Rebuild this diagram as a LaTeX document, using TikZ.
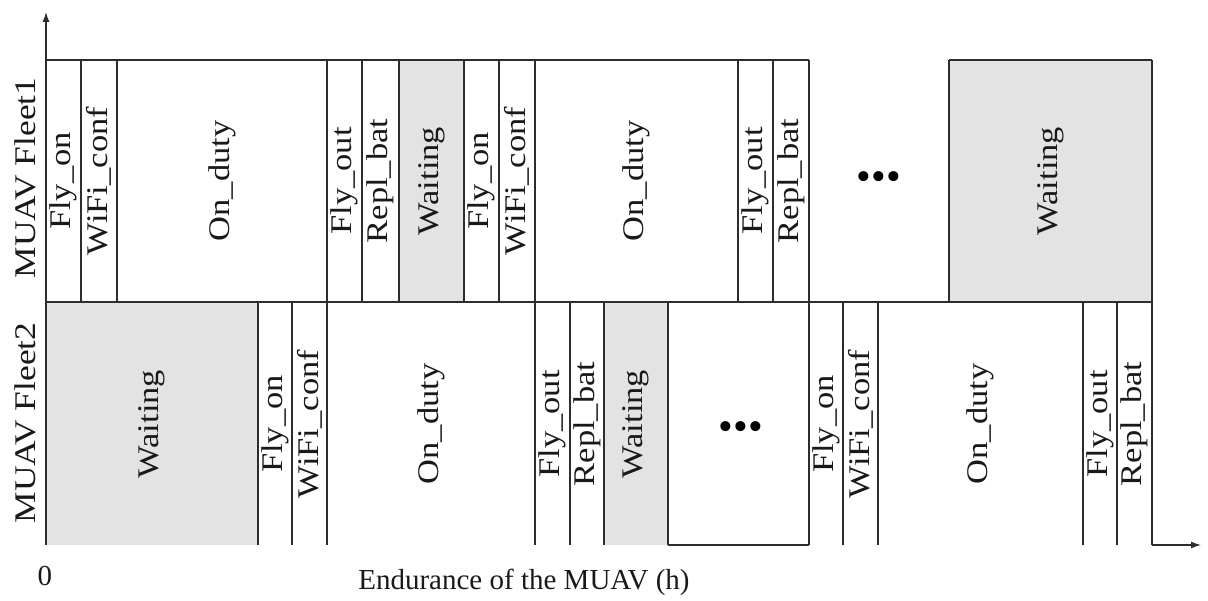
\documentclass[tikz,border=0pt]{standalone}
\usepackage{fontspec}
\setmainfont{Liberation Serif}
\usetikzlibrary{arrows.meta}
\definecolor{waitgray}{RGB}{227,227,227}
\definecolor{edge}{RGB}{45,45,45}
\begin{document}
\begin{tikzpicture}[x=1pt,y=-1pt,
  edgeline/.style={draw=edge,line width=1.3pt},
  waitbox/.style={fill=waitgray,draw=none},
  phase/.style={rotate=90,font=\fontsize{30}{32}\selectfont,inner sep=0pt,text=black!90},
  rowlabel/.style={rotate=90,font=\fontsize{30}{32}\selectfont,inner sep=0pt,text=black!90},
  axislabel/.style={font=\fontsize{29}{31}\selectfont,inner sep=0pt,text=black!90},
  dots/.style={font=\fontsize{42}{44}\selectfont,inner sep=0pt},
  axisarrow/.style={draw=edge,line width=1.3pt,-{Latex[length=10pt,width=7pt]}}
]
\useasboundingbox (0,0) rectangle (1208,601);

% waiting periods (shaded)
\fill[waitbox] (399,60) rectangle (464,302);
\fill[waitbox] (949,60) rectangle (1152,302);
\fill[waitbox] (46,302) rectangle (258,545);
\fill[waitbox] (604,302) rectangle (668,545);

% fleet 1 row: top edges and phase boundaries
\draw[edgeline] (46,60) -- (809,60);
\draw[edgeline] (949,60) -- (1152,60);
\foreach \x in {81,117,327,362,399,464,499,535,738,773,809,949,1152}
  \draw[edgeline] (\x,60) -- (\x,302);

% separator between the two fleets
\draw[edgeline] (46,302) -- (1152,302);

% fleet 2 row: phase boundaries
\foreach \x in {258,292,327,535,570,604,668,809,843,878,1083,1117,1152}
  \draw[edgeline] (\x,302) -- (\x,545);
\draw[edgeline] (668,545) -- (809,545);

% axes
\coordinate (origin) at (46,545);
\coordinate (ytip) at (46,12);
\coordinate (xstart) at (1152,545);
\coordinate (xtip) at (1201,545);
\draw[axisarrow] (origin) -- (ytip);
\draw[axisarrow] (xstart) -- (xtip);

% phase labels, fleet 1
\foreach \x/\t [count=\i] in {63.5/Fly\_on, 99/WiFi\_conf, 222/On\_duty,
    344.5/Fly\_out, 380.5/Repl\_bat, 431.5/Waiting, 481.5/Fly\_on,
    517/WiFi\_conf, 636.5/On\_duty, 755.5/Fly\_out, 791/Repl\_bat,
    1051/Waiting}
  \node[phase] (fa\i) at (\x,181) {\scalebox{1.15}[1]{\t}};

% phase labels, fleet 2
\foreach \x/\t [count=\i] in {152/Waiting, 275/Fly\_on, 309.5/WiFi\_conf,
    431/On\_duty, 552.5/Fly\_out, 587/Repl\_bat, 636/Waiting,
    826/Fly\_on, 860.5/WiFi\_conf, 980.5/On\_duty, 1100/Fly\_out,
    1134.5/Repl\_bat}
  \node[phase] (fb\i) at (\x,424) {\scalebox{1.15}[1]{\t}};

% continuation marks
\node[dots] (more1) at (879,181) {\textbullet\textbullet\textbullet};
\node[dots] (more2) at (741,431) {\textbullet\textbullet\textbullet};

% row and axis labels
\node[rowlabel] (row1) at (25,178) {\scalebox{1.18}[1]{MUAV Fleet1}};
\node[rowlabel] (row2) at (25,423) {\scalebox{1.18}[1]{MUAV Fleet2}};
\node[axislabel] (zero) at (45,576) {0};
\node[axislabel] (xlabel) at (524,582) {Endurance of the MUAV (h)};
\end{tikzpicture}
\end{document}
